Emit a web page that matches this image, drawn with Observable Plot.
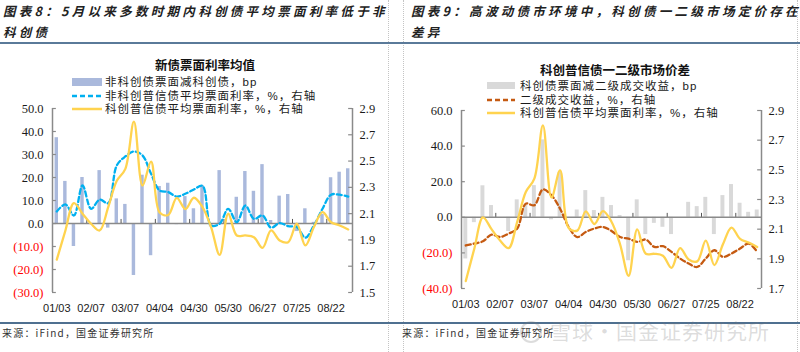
<!DOCTYPE html>
<html><head><meta charset="utf-8">
<script src="https://cdn.jsdelivr.net/npm/d3@7"></script>
<script src="https://cdn.jsdelivr.net/npm/@observablehq/plot@0.6"></script>
<style>
body{margin:0;width:800px;height:352px;overflow:hidden;background:#fff;position:relative;font-family:"Noto Sans CJK SC",sans-serif;color:#1f1f1f;}
.abs{position:absolute;}
.hdr{font-weight:bold;font-style:italic;font-size:12.5px;letter-spacing:3.3px;line-height:21px;white-space:nowrap;color:#222;}
.vline{position:absolute;top:0;height:352px;width:0;border-left:1px dotted #c4c4c4;}
.rule{position:absolute;background:#5a7a99;}
.ctitle{position:absolute;font-weight:bold;font-size:12.5px;line-height:14px;transform:translate(-50%,-50%);white-space:nowrap;color:#111;}
.leg{position:absolute;font-family:"Liberation Sans","Noto Sans CJK SC",sans-serif;font-size:11.5px;line-height:13.5px;letter-spacing:1px;white-space:nowrap;color:#1a1a1a;}
.leg svg{vertical-align:-1px;margin-right:2px;}
.foot{position:absolute;font-size:10px;line-height:12px;letter-spacing:1.2px;white-space:nowrap;color:#333;}
.wm{position:absolute;font-size:21px;line-height:14px;color:rgba(120,120,120,0.26);white-space:nowrap;letter-spacing:1px;}
</style></head>
<body>
<div class="vline" style="left:388px"></div>
<div class="vline" style="left:403px"></div>
<div class="vline" style="left:797px"></div>

<div class="abs hdr" style="left:3px;top:0px">图表8：5月以来多数时期内科创债平均票面利率低于非<br>科创债</div>
<div class="abs hdr" style="left:411px;top:0px">图表9：高波动债市环境中，科创债一二级市场定价存在<br>差异</div>
<div class="rule" style="left:0;top:42px;width:800px;height:2px"></div>

<div class="ctitle" style="left:205px;top:65px">新债票面利率均值</div>
<div class="ctitle" style="left:615px;top:70px">科创普信债一二级市场价差</div>

<div id="left" class="abs" style="left:0;top:95px"></div>
<div id="right" class="abs" style="left:400px;top:95px"></div>

<div class="leg" style="left:72px;top:76px"><svg width="31" height="10"><rect x="0" y="1" width="30" height="8" fill="#aab9dc"/></svg>非科创债票面减科创债，bp<br><svg width="31" height="10"><line x1="0" y1="5" x2="30" y2="5" stroke="#00b0f0" stroke-width="2.5" stroke-dasharray="5,3"/></svg>非科创普信债平均票面利率，%，右轴<br><svg width="31" height="10"><line x1="0" y1="5" x2="30" y2="5" stroke="#ffd34f" stroke-width="2.5"/></svg>科创普信债平均票面利率，%，右轴</div>

<div class="leg" style="left:487px;top:80px"><svg width="31" height="10"><rect x="0" y="1" width="28" height="7" fill="#d9d9d9"/></svg>科创债票面减二级成交收益，bp<br><svg width="31" height="10"><line x1="0" y1="5" x2="28" y2="5" stroke="#c55a11" stroke-width="2.5" stroke-dasharray="5,3"/></svg>二级成交收益，%，右轴<br><svg width="31" height="10"><line x1="0" y1="5" x2="28" y2="5" stroke="#ffd34f" stroke-width="2.5"/></svg>科创普信债平均票面利率，%，右轴</div>

<div class="rule" style="left:0;top:322px;width:800px;height:1.5px;background:#4f7090"></div>
<div class="foot" style="left:2px;top:327px">来源：iFind，国金证券研究所</div>
<div class="foot" style="left:402px;top:327px">来源：iFind，国金证券研究所</div>
<div class="wm" style="left:520px;top:321px"><span style="display:inline-block;width:18px;height:18px;border:2px solid rgba(120,120,120,0.26);border-radius:50%;vertical-align:-4px;margin-right:8px"></span>雪球·国金证券研究所</div>

<script>
// ---- data ----
const dates = ["01/03","01/10","01/17","01/24","02/07","02/14","02/21","02/28","03/07","03/14","03/21","03/28","04/04","04/11","04/18","04/25","04/30","05/09","05/16","05/23","05/30","06/06","06/13","06/20","06/27","07/04","07/11","07/18","07/25","08/01","08/08","08/15","08/22","08/29","09/05"];
const xTickLabels = ["01/03","02/07","03/07","04/04","04/30","05/30","06/27","07/25","08/22"];

// chart 8
const nonKcMinusKcBp = [37.3,18.3,-10,20,0,23,-2,10.7,8.3,-22.6,21,-14,16.1,17.5,-0.5,11.7,6.4,16.5,-1.5,23,0,11.4,22.6,14,25.6,1.3,11.9,12.6,-3.5,6.4,0.5,3.9,19.9,22.3,23.8];
const nonKcRate = [2.117,2.17,2.086,2.314,2.137,2.206,2.18,2.467,2.535,2.573,2.543,2.403,2.276,2.264,2.23,2.251,2.284,2.312,2.01,2.023,2.137,2.035,2.162,2.06,2.086,1.993,2.028,2.005,1.998,1.917,2.01,2.137,2.244,2.244,2.23];
const kcRate = [1.75,1.97,2.18,2.10,2.023,1.972,2.15,2.35,2.441,2.80,2.314,2.496,2.108,2.09,2.22,2.135,2.221,2.15,1.998,1.786,2.099,1.934,1.934,1.921,1.839,1.972,1.896,1.883,2.023,1.858,1.998,2.111,2.035,2.01,1.98];
const leftTicks8 = [-30,-20,-10,0,10,20,30,40,50];
const rightTicks8 = [1.5,1.7,1.9,2.1,2.3,2.5,2.7,2.9];

// chart 9
const kcMinusSecBp = [-23.4,-3,17.7,6.6,0,-8,9.8,6.6,17.8,43.5,-1.4,25.3,0,4.1,15,3.8,11.2,6.6,1,-24.4,9.8,-9.7,-3.4,-5.6,-9.7,0,8.4,6,11.2,-9.7,12.2,18.4,7.9,2.8,4.1];
const secRate = [1.99,2.003,2.018,2.063,2.047,2.07,2.104,2.272,2.261,2.368,2.328,2.238,2.115,2.047,2.081,2.104,2.115,2.088,2.047,2.036,2.014,2.03,1.98,1.985,1.947,1.902,1.868,1.845,1.902,1.958,1.913,1.936,1.969,2.003,1.947];
const leftTicks9 = [-40,-20,0,20,40,60];
const rightTicks9 = [1.7,1.9,2.1,2.3,2.5,2.7,2.9];

// ---- helpers ----
const idx = dates.map((d, i) => i);
const fmtL = d => d < 0 ? `(${(-d).toFixed(1)})` : d.toFixed(1);
const n = dates.length;
const boundaries = xTickLabels.slice(1).map(l => dates.indexOf(l) - 0.5);
const axisColor = "#8a8a8a";
const numFont = "Liberation Serif";

function chart({yDomain, rDomain, bars, barColor, barHalf, lines, leftTicks, rightTicks, width, marginLeft, marginRight, marginTop, marginBottom}) {
  const [y0, y1] = yDomain, [r0, r1] = rDomain;
  const toL = r => (r - r0) / (r1 - r0) * (y1 - y0) + y0;
  const tickLen = 0.45;
  const tickY = (y1 - y0) * 0.022;
  return Plot.plot({
    width, height: 225, marginLeft, marginRight, marginTop, marginBottom,
    x: {domain: [-0.5, n - 0.5], axis: null},
    y: {domain: yDomain, axis: null},
    style: {background: "transparent", overflow: "visible"},
    marks: [
      Plot.rectY(idx, {x1: i => i - barHalf, x2: i => i + barHalf, y1: 0, y2: i => bars[i], fill: barColor}),
      Plot.ruleY([0], {stroke: axisColor, strokeWidth: 1.5}),
      Plot.ruleX([-0.5, n - 0.5], {stroke: axisColor, strokeWidth: 1.5}),
      Plot.ruleX(boundaries, {y1: 0, y2: tickY, stroke: "#555", strokeWidth: 1}),
      ...lines.map(l => Plot.line(idx, {x: i => i, y: i => toL(l.values[i]), stroke: l.color, strokeWidth: 2.3, strokeDasharray: l.dash, curve: "catmull-rom"})),
      Plot.ruleY(leftTicks, {x1: -0.5, x2: -0.5 + tickLen, stroke: axisColor, strokeWidth: 1.2}),
      Plot.ruleY(rightTicks, {y: d => toL(d), x1: n - 0.5 - tickLen, x2: n - 0.5, stroke: axisColor, strokeWidth: 1.2}),
      Plot.text(leftTicks.filter(d => d >= 0), {x: -0.5, y: d => d, dx: -9, textAnchor: "end", text: fmtL, fill: "#1a1a1a", fontSize: 12.5, fontFamily: numFont}),
      Plot.text(leftTicks.filter(d => d < 0), {x: -0.5, y: d => d, dx: -9, textAnchor: "end", text: fmtL, fill: "#ff0000", fontSize: 12.5, fontFamily: numFont}),
      Plot.text(rightTicks, {x: n - 0.5, y: d => toL(d), dx: 7, textAnchor: "start", text: d => d.toFixed(1), fill: "#1a1a1a", fontSize: 12.5, fontFamily: numFont}),
      Plot.text(xTickLabels, {x: l => dates.indexOf(l), y: y0, dy: 16, text: l => l, fill: "#1a1a1a", fontSize: 11, fontFamily: "Liberation Sans"})
    ]
  });
}

document.getElementById("left").append(chart({
  yDomain: [-30, 50], rDomain: [1.5, 2.9], bars: nonKcMinusKcBp, barColor: "#aab9dc", barHalf: 0.2,
  lines: [
    {values: nonKcRate, color: "#00b0f0", dash: "5,3"},
    {values: kcRate, color: "#ffd34f", dash: null}
  ],
  leftTicks: leftTicks8, rightTicks: rightTicks8,
  width: 395, marginLeft: 52, marginRight: 43, marginTop: 13, marginBottom: 28
}));

document.getElementById("right").append(chart({
  yDomain: [-40, 60], rDomain: [1.7, 2.9], bars: kcMinusSecBp, barColor: "#d9d9d9", barHalf: 0.23,
  lines: [
    {values: secRate, color: "#c55a11", dash: "5,3"},
    {values: kcRate, color: "#ffd34f", dash: null}
  ],
  leftTicks: leftTicks9, rightTicks: rightTicks9,
  width: 400, marginLeft: 61, marginRight: 39, marginTop: 15, marginBottom: 32
}));
</script>
</body></html>
